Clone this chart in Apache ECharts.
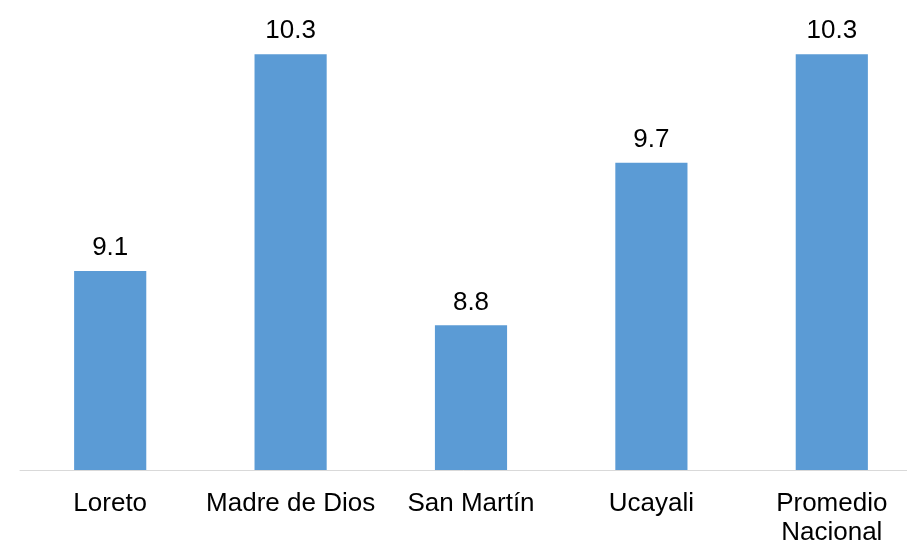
<!DOCTYPE html>
<html>
<head>
<meta charset="utf-8">
<script src="https://cdn.jsdelivr.net/npm/echarts@6/dist/echarts.min.js"></script>
<style>
  html, body { margin: 0; padding: 0; background: #fff; }
  #chart { width: 907px; height: 543px; }
</style>
</head>
<body>
<div id="chart"></div>
<script>
  // regiones y valores
  const categories = ['Loreto', 'Madre de Dios', 'San Martín', 'Ucayali', 'Promedio\nNacional']
  const values = [9.1, 10.3, 8.8, 9.7, 10.3]

  const chart = echarts.init(document.getElementById('chart'))
  chart.setOption({
    animation: false,
    textStyle: { fontFamily: '"Liberation Sans", Arial, sans-serif' },
    grid: {
      left: 20,
      top: 18,
      width: 902,
      bottom: 73,
      containLabel: false,
      outerBoundsMode: 'none'
    },
    xAxis: {
      type: 'category',
      data: categories,
      axisLine: { lineStyle: { color: '#d9d9d9', width: 1 } },
      axisTick: { show: false },
      axisLabel: {
        color: '#000',
        fontSize: 26,
        lineHeight: 29,
        margin: 19,
        interval: 0
      }
    },
    yAxis: {
      type: 'value',
      min: 8,
      max: 10.5,
      show: false,
      splitLine: { show: false }
    },
    series: [{
      type: 'bar',
      data: values,
      barWidth: '40%',
      itemStyle: { color: '#5b9bd5' },
      label: {
        show: true,
        position: 'top',
        distance: 10,
        color: '#000',
        fontSize: 26,
        formatter: p => p.value.toFixed(1)
      }
    }]
  })
</script>
</body>
</html>
